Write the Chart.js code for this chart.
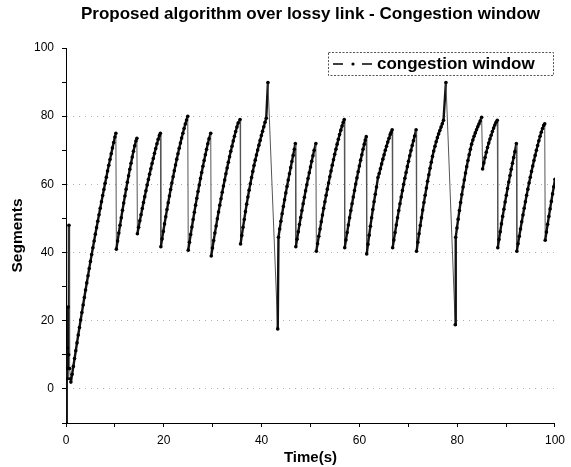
<!DOCTYPE html>
<html><head><meta charset="utf-8">
<script src="https://cdn.jsdelivr.net/npm/chart.js@4.4.0/dist/chart.umd.min.js"></script>
<style>html,body{margin:0;padding:0;background:#fff}#wrap{width:571px;height:467px}</style>
</head><body><div id="wrap"><canvas id="c" width="571" height="467"></canvas></div>
<script>
const chartTitle = 'Proposed algorithm over lossy link - Congestion window';
const seriesName = 'congestion window';
const xTitle = 'Time(s)';
const yTitle = 'Segments';
const xTickLabels = [0, 20, 40, 60, 80, 100];
const yTickLabels = [0, 20, 40, 60, 80, 100];

// time (s) and congestion window (segments)
const timeS = [
  0,0.15,0.25,0.3,0.4,0.45,0.55,0.6,0.75,0.9,
  1.0,1.25,1.5,1.75,2.0,2.25,2.5,2.75,3.0,3.25,3.5,3.75,4.0,4.25,4.5,4.75,5.0,5.25,5.5,5.75,6.0,6.25,6.5,6.75,7.0,7.25,7.5,7.75,8.0,8.25,8.5,8.75,9.0,9.25,9.5,9.75,10.0,10.2,
  10.3,10.55,10.8,11.05,11.3,11.55,11.8,12.05,12.3,12.55,12.8,13.05,13.3,13.55,13.8,14.05,14.3,14.5,
  14.6,14.85,15.1,15.35,15.6,15.85,16.1,16.35,16.6,16.85,17.1,17.35,17.6,17.85,18.1,18.35,18.6,18.85,19.1,19.3,
  19.4,19.65,19.9,20.15,20.4,20.65,20.9,21.15,21.4,21.65,21.9,22.15,22.4,22.65,22.9,23.15,23.4,23.65,23.9,24.15,24.4,24.65,24.9,
  25.0,25.25,25.5,25.75,26.0,26.25,26.5,26.75,27.0,27.25,27.5,27.75,28.0,28.25,28.5,28.75,29.0,29.25,29.6,
  29.7,29.95,30.2,30.45,30.7,30.95,31.2,31.45,31.7,31.95,32.2,32.45,32.7,32.95,33.2,33.45,33.7,33.95,34.2,34.45,34.7,34.95,35.2,35.6,
  35.7,35.95,36.2,36.45,36.7,36.95,37.2,37.45,37.7,37.95,38.2,38.45,38.7,38.95,39.2,39.45,39.7,39.95,40.2,40.45,40.7,40.95,41.3,43.3,
  43.45,43.7,43.95,44.2,44.45,44.7,44.95,45.2,45.45,45.7,45.95,46.2,46.45,46.7,46.9,
  47.0,47.25,47.5,47.75,48.0,48.25,48.5,48.75,49.0,49.25,49.5,49.75,50.0,50.25,50.5,50.75,51.1,
  51.2,51.45,51.7,51.95,52.2,52.45,52.7,52.95,53.2,53.45,53.7,53.95,54.2,54.45,54.7,54.95,55.2,55.45,55.7,55.95,56.2,56.45,56.7,56.9,
  57.0,57.25,57.5,57.75,58.0,58.25,58.5,58.75,59.0,59.25,59.5,59.75,60.0,60.25,60.5,60.75,61.0,61.2,61.4,
  61.5,61.75,62.0,62.25,62.5,62.75,63.0,63.25,63.5,63.8,64.05,64.3,64.55,64.8,65.05,65.3,65.55,65.8,66.05,66.3,66.5,66.7,
  66.8,67.05,67.3,67.55,67.8,68.05,68.3,68.55,68.8,69.05,69.3,69.55,69.8,70.05,70.3,70.55,70.8,71.05,71.3,71.6,
  71.7,71.95,72.2,72.45,72.7,72.95,73.2,73.45,73.7,73.95,74.2,74.45,74.7,74.95,75.2,75.45,75.7,75.95,76.2,76.45,76.7,76.95,77.2,77.7,79.6,
  79.7,79.95,80.2,80.45,80.7,80.95,81.2,81.45,81.7,81.95,82.2,82.45,82.7,82.95,83.2,83.45,83.7,83.95,84.2,84.45,84.7,85.0,
  85.2,85.45,85.7,85.95,86.2,86.45,86.7,86.95,87.2,87.45,87.7,87.95,88.2,
  88.3,88.55,88.8,89.05,89.3,89.55,89.8,90.05,90.3,90.55,90.8,91.05,91.3,91.55,91.8,92.1,
  92.2,92.45,92.7,92.95,93.2,93.45,93.7,93.95,94.2,94.45,94.7,94.95,95.2,95.45,95.7,95.95,96.2,96.45,96.7,96.95,97.2,97.45,97.7,97.9,
  98.0,98.25,98.5,98.75,99.0,99.25,99.5,99.75,100.0
];
const cwnd = [
  -10,6,3,12,6,24,10,48,6,3,
  2,4.3,6.6,8.9,11.2,13.5,15.8,18.0,20.2,22.4,24.6,26.8,29.0,31.1,33.2,35.3,37.4,39.4,41.4,43.4,45.4,47.3,49.2,51.1,53.0,54.9,56.7,58.5,60.3,62.1,63.9,65.6,67.3,69.0,70.7,72.3,73.9,75,
  41,43.4,45.7,48.0,50.2,52.4,54.5,56.6,58.6,60.6,62.5,64.4,66.2,68.0,69.7,71.3,72.7,73.5,
  45.5,47.4,49.3,51.1,52.9,54.7,56.4,58.1,59.8,61.4,63.0,64.6,66.1,67.6,69.1,70.5,71.9,73.2,74.3,75,
  41.7,44.0,46.2,48.4,50.5,52.6,54.6,56.6,58.5,60.4,62.2,64.0,65.7,67.4,69.0,70.6,72.1,73.6,75.0,76.4,77.7,78.9,80,
  40.7,43.0,45.3,47.5,49.7,51.8,53.9,55.9,57.9,59.8,61.7,63.5,65.3,67.0,68.7,70.3,71.9,73.4,75,
  39,41.3,43.5,45.7,47.8,49.9,51.9,53.9,55.8,57.7,59.5,61.3,63.1,64.8,66.5,68.1,69.7,71.2,72.7,74.1,75.5,76.8,78.0,79,
  42.5,45.0,47.4,49.7,52.0,54.2,56.3,58.3,60.2,62.0,63.8,65.5,67.1,68.6,70.1,71.5,72.9,74.3,75.6,76.9,78.2,79.4,89.9,17.6,
  44.5,46.9,49.2,51.4,53.5,55.5,57.5,59.4,61.3,63.1,64.9,66.7,68.5,70.3,72,
  41.7,43.9,46.1,48.2,50.3,52.3,54.3,56.2,58.1,59.9,61.7,63.4,65.1,66.8,68.4,70.0,72,
  40.4,42.6,44.8,46.9,49.0,51.0,53.0,54.9,56.8,58.6,60.4,62.2,63.9,65.6,67.2,68.8,70.3,71.8,73.2,74.6,75.9,77.1,78.2,79,
  41.4,43.7,45.9,48.1,50.2,52.3,54.3,56.3,58.2,60.1,61.9,63.7,65.4,67.1,68.7,70.3,71.8,73.0,74,
  39.6,42.4,45.1,47.7,50.2,52.6,54.9,57.1,59.2,62.0,63.2,64.6,66.0,67.4,68.7,70.0,71.2,72.4,73.5,74.6,75.3,76,
  41.4,43.7,45.9,48.1,50.2,52.3,54.3,56.3,58.2,60.0,61.8,63.5,65.2,66.8,68.4,69.9,71.4,72.8,74.2,76,
  40.4,43.0,45.5,47.9,50.2,52.5,54.7,56.8,58.9,60.9,62.8,64.7,66.5,68.2,69.8,71.2,72.5,73.7,74.8,75.8,76.8,77.8,78.8,89.9,18.8,
  44.5,47.2,49.8,52.3,54.7,57.0,59.2,61.3,63.3,65.2,67.0,68.7,70.3,71.8,73.0,74.1,75.1,76.0,76.9,77.7,78.6,79.7,
  64.5,66.3,67.9,69.4,70.8,72.1,73.3,74.4,75.5,76.5,77.4,78.2,78.8,
  41.4,43.8,46.1,48.4,50.6,52.7,54.8,56.8,58.8,60.7,62.6,64.4,66.2,67.9,69.6,72,
  40.4,42.6,44.8,46.9,49.0,51.0,53.0,54.9,56.8,58.6,60.4,62.1,63.8,65.4,67.0,68.5,70.0,71.4,72.8,74.1,75.3,76.4,77.3,77.8,
  43.6,46.0,48.3,50.6,52.8,55.0,57.2,59.3,61.5
];

const FONT = "'Liberation Sans', Arial, Helvetica, sans-serif";
const points = timeS.map((t, i) => ({x: t, y: cwnd[i]}));
const falling = ctx => ctx.p1.parsed.y < ctx.p0.parsed.y;

const boxLegend = {
  id: 'boxLegend',
  afterDraw(chart) {
    const ctx = chart.ctx;
    const label = chart.data.datasets[0].label;
    const bx = 328.5, by = 52.5, bw = 225, bh = 23;
    ctx.save();
    ctx.fillStyle = '#fff';
    ctx.fillRect(bx, by, bw, bh);
    ctx.strokeStyle = '#555';
    ctx.lineWidth = 1;
    ctx.setLineDash([2, 1.5]);
    ctx.strokeRect(bx, by, bw, bh);
    ctx.setLineDash([]);
    const cy = by + bh / 2;
    ctx.strokeStyle = '#000';
    ctx.lineWidth = 1.3;
    ctx.beginPath();
    ctx.moveTo(333, cy); ctx.lineTo(343, cy);
    ctx.moveTo(362, cy); ctx.lineTo(372, cy);
    ctx.stroke();
    ctx.fillStyle = '#000';
    ctx.beginPath(); ctx.arc(353, cy, 1.6, 0, Math.PI * 2); ctx.fill();
    ctx.font = 'bold 17px ' + FONT;
    ctx.textBaseline = 'middle';
    ctx.textAlign = 'left';
    ctx.fillText(label, 377, cy + 0.5);
    ctx.restore();
  }
};

new Chart(document.getElementById('c'), {
  type: 'line',
  data: {
    datasets: [{
      label: seriesName,
      data: points,
      borderColor: '#111',
      borderWidth: 2.4,
      pointRadius: 1.8,
      pointHoverRadius: 1.8,
      pointBackgroundColor: '#000',
      pointBorderWidth: 0,
      tension: 0,
      segment: {
        borderColor: ctx => falling(ctx) ? '#555' : '#111',
        borderWidth: ctx => falling(ctx) ? 1 : 2.4
      }
    }]
  },
  plugins: [boxLegend],
  options: {
    responsive: false,
    animation: false,
    devicePixelRatio: 1,
    layout: {padding: {left: 8, right: 13, top: 0, bottom: 0}},
    plugins: {
      legend: {display: false},
      tooltip: {enabled: false},
      title: {
        display: true, text: chartTitle, color: '#000', fullSize: false,
        font: {family: FONT, size: 17, weight: 'bold'},
        padding: {top: 4, bottom: 23.6}
      }
    },
    scales: {
      x: {
        type: 'linear', min: 0, max: 100,
        afterFit: s => { s.height = 44; },
        ticks: {
          stepSize: 10, autoSkip: false, maxRotation: 0, padding: 6, color: '#000',
          font: {family: FONT, size: 12},
          callback: v => xTickLabels.includes(v) ? String(v) : ''
        },
        grid: {drawOnChartArea: false, tickLength: 4, tickColor: '#000', tickWidth: 1},
        border: {color: '#000', width: 1},
        title: {display: true, text: xTitle, color: '#000', font: {family: FONT, size: 15, weight: 'bold'}, padding: {top: 0, bottom: 0}}
      },
      y: {
        min: -10, max: 100,
        afterFit: s => { s.width = 58; },
        ticks: {
          stepSize: 10, autoSkip: false, padding: 8, color: '#000',
          font: {family: FONT, size: 12},
          callback: v => yTickLabels.includes(v) ? String(v) : ''
        },
        grid: {
          color: c => (c.tick && c.tick.value >= 0 && c.tick.value < 100 && c.tick.value % 20 === 0) ? '#b0b0b0' : 'rgba(0,0,0,0)',
          lineWidth: 1, tickLength: 4, tickColor: '#000', tickWidth: 1, tickBorderDash: []
        },
        border: {color: '#000', width: 1, dash: [1, 5]},
        title: {display: true, text: yTitle, color: '#000', font: {family: FONT, size: 15.5, weight: 'bold'}, padding: {top: 0, bottom: 0}}
      }
    }
  }
});
</script></body></html>
